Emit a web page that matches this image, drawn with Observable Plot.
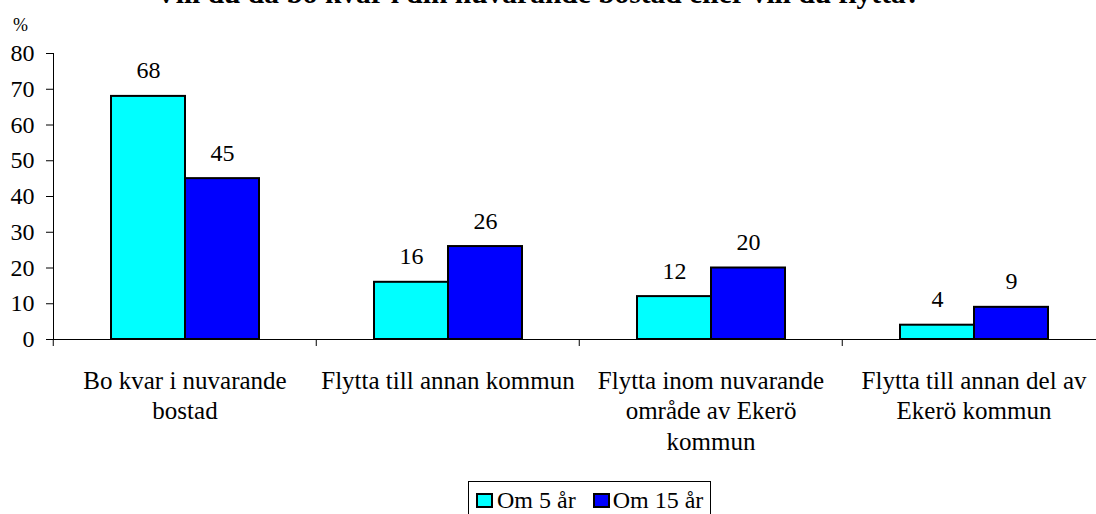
<!DOCTYPE html>
<html>
<head>
<meta charset="utf-8">
<script src="https://cdn.jsdelivr.net/npm/d3@7"></script>
<script src="https://cdn.jsdelivr.net/npm/@observablehq/plot@0.6"></script>
<style>
html, body { margin: 0; padding: 0; background: #fff; }
#wrap { position: relative; width: 1096px; height: 514px; overflow: hidden; font-family: "Liberation Serif", "Times New Roman", serif; color: #000; }
#chart { position: absolute; left: 0; top: 0; }
#chart svg, #chart svg text, #chart svg g { font-family: "Liberation Serif", "Times New Roman", serif !important; }
#title { position: absolute; left: 0; width: 1076px; top: -20.7px; text-align: center; font-weight: bold; font-size: 29.5px; line-height: 1; white-space: nowrap; }
#unit { position: absolute; left: 13px; top: 15.9px; font-size: 18px; line-height: 1; }
#legend { position: absolute; left: 468px; top: 481px; width: 243px; height: 40px; border: 1px solid #000; box-sizing: border-box; padding: 6.2px 0 0 7px; font-size: 24px; line-height: 1; white-space: nowrap; }
#legend .sw { display: inline-block; width: 17px; height: 15px; border: 2px solid #000; box-sizing: border-box; vertical-align: baseline; }
</style>
</head>
<body>
<div id="wrap">
  <div id="chart"></div>
  <div id="title"></div>
  <div id="unit"></div>
  <div id="legend"></div>
</div>
<script>
const titleText = "Vill du då bo kvar i din nuvarande bostad eller vill du flytta?";
const unitLabel = "%";
const categories = [
  "Bo kvar i nuvarande\nbostad",
  "Flytta till annan kommun",
  "Flytta inom nuvarande\nområde av Ekerö\nkommun",
  "Flytta till annan del av\nEkerö kommun"
];
const series = ["Om 5 år", "Om 15 år"];
const om5 = [68, 16, 12, 4];
const om15 = [45, 26, 20, 9];
const colors = ["#00FFFF", "#0000FF"];
const yTicks = [0, 10, 20, 30, 40, 50, 60, 70, 80];

const data = categories.flatMap((c, i) => [
  {cat: c, series: series[0], value: om5[i]},
  {cat: c, series: series[1], value: om15[i]}
]);

const W = 1096, H = 470, mL = 52, mT = 53, mB = H - 339, mR = -10;
const step = (W - mR - mL) / categories.length;
const serif = "Liberation Serif, Times New Roman, serif";

const chart = Plot.plot({
  width: W, height: H,
  marginLeft: mL, marginRight: mR, marginTop: mT, marginBottom: mB,
  style: {fontSize: "24px", color: "#000", background: "transparent"},
  fx: {domain: categories, padding: 0, label: null},
  x: {domain: series, paddingInner: 0, paddingOuter: 0.757, axis: null},
  y: {domain: [0, 80], label: null},
  color: {domain: series, range: colors},
  marks: [
    Plot.frame({anchor: "left", facetAnchor: "left", stroke: "#000"}),
    Plot.ruleY([0], {stroke: "#000"}),
    Plot.barY(data, {fx: "cat", x: "series", y: "value", fill: "series", stroke: "#000", strokeWidth: 2, inset: 0}),
    Plot.text(data, {fx: "cat", x: "series", y: "value", text: d => String(d.value), lineAnchor: "bottom", dy: -18, fontSize: 24, fontFamily: serif}),
    Plot.axisY({ticks: yTicks, tickSize: 7, tickPadding: 12, fontSize: 24, fontFamily: serif, label: null, stroke: "#000"}),
    Plot.axisFx({anchor: "bottom", tickSize: 7, tickFormat: () => "", dx: -step / 2, label: null, stroke: "#000"}),
    Plot.axisFx({anchor: "bottom", tickSize: 0, tickPadding: 27.5, fontSize: 25, fontFamily: serif, lineHeight: 1.22, label: null})
  ]
});
document.getElementById("chart").appendChild(chart);
document.getElementById("title").textContent = titleText;
document.getElementById("unit").textContent = unitLabel;

const legend = document.getElementById("legend");
series.forEach((s, i) => {
  const sw = document.createElement("span");
  sw.className = "sw";
  sw.style.background = colors[i];
  sw.style.marginLeft = i === 0 ? "0px" : "17px";
  const t = document.createElement("span");
  t.textContent = s;
  t.style.marginLeft = i === 0 ? "4px" : "3px";
  legend.appendChild(sw);
  legend.appendChild(t);
});
</script>
</body>
</html>
